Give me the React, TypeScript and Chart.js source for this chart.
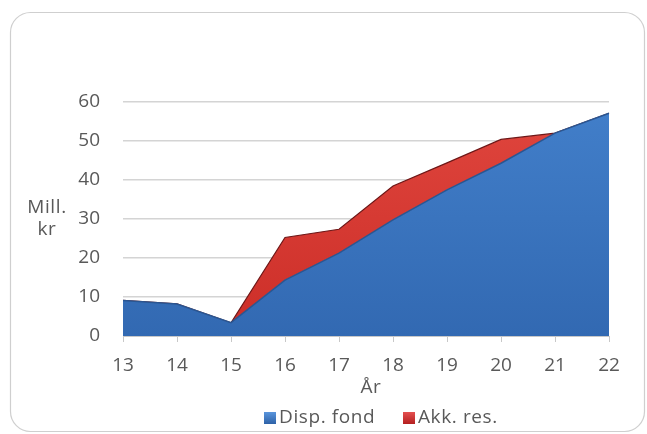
import React, { useEffect, useRef } from "react";
import { Chart, registerables } from "chart.js";

Chart.register(...registerables);

const categories = ["13", "14", "15", "16", "17", "18", "19", "20", "21", "22"];
const dispFond = [9.1, 8.2, 3.4, 14.3, 21.2, 29.7, 37.4, 44.2, 51.9, 57.0];
const akkRes = [0, 0, 0, 10.9, 6.1, 8.7, 6.9, 6.1, 0, 0];
const yTicks = [0, 10, 20, 30, 40, 50, 60];
const seriesNames = ["Disp. fond", "Akk. res."];
const xTitle = "År";
const yTitleLines = ["Mill.", "kr"];

const FONT = "'Open Sans', sans-serif";
const TEXT = "#595959";

export default function App() {
  const ref = useRef<HTMLCanvasElement | null>(null);

  useEffect(() => {
    const canvas = ref.current;
    if (!canvas) return;

    const decor = {
      id: "decor",
      beforeDraw(chart: any) {
        const ctx = chart.ctx;
        ctx.save();
        ctx.fillStyle = "#ffffff";
        ctx.fillRect(0, 0, chart.width, chart.height);
        ctx.beginPath();
        (ctx as any).roundRect(10.5, 12.5, 634, 419, 20);
        ctx.strokeStyle = "#cfcfcf";
        ctx.lineWidth = 1.2;
        ctx.stroke();
        ctx.restore();
      },
      afterDraw(chart: any) {
        const ctx = chart.ctx;
        ctx.save();
        ctx.fillStyle = TEXT;
        ctx.font = `19px ${FONT}`;
        (ctx as any).letterSpacing = "0.6px";
        ctx.textAlign = "center";
        ctx.textBaseline = "middle";
        ctx.fillText(yTitleLines[0], 47, 208);
        ctx.fillText(yTitleLines[1], 47, 230);
        ctx.fillText(xTitle, 371, 388);
        // legend
        const items = [
          { x: 264, color1: "#5a95dc", color2: "#2a5ea3", label: seriesNames[0] },
          { x: 403, color1: "#e45050", color2: "#b01c1c", label: seriesNames[1] },
        ];
        ctx.textAlign = "left";
        for (const it of items) {
          const g = ctx.createLinearGradient(0, 412, 0, 425);
          g.addColorStop(0, it.color1);
          g.addColorStop(1, it.color2);
          ctx.fillStyle = g;
          ctx.fillRect(it.x, 412, 12, 12);
          ctx.fillStyle = TEXT;
          ctx.fillText(it.label, it.x + 15, 418);
        }
        ctx.restore();
      },
    };

    const grad = (top: string, bottom: string) => (c: any) => {
      const area = c.chart.chartArea;
      if (!area) return top;
      const g = c.chart.ctx.createLinearGradient(0, area.top, 0, area.bottom);
      g.addColorStop(0, top);
      g.addColorStop(1, bottom);
      return g;
    };

    const chart = new Chart(canvas, {
      type: "line",
      data: {
        labels: categories,
        datasets: [
          {
            label: seriesNames[0],
            data: dispFond,
            fill: "origin",
            backgroundColor: grad("#427fca", "#3269b2"),
            borderColor: "#2a5692",
            borderWidth: 1.5,
            pointRadius: 0,
            tension: 0,
          },
          {
            label: seriesNames[1],
            data: akkRes,
            fill: "-1",
            backgroundColor: grad("#e0463e", "#cc2e28"),
            borderColor: "#6e1818",
            borderWidth: 1.2,
            pointRadius: 0,
            tension: 0,
          },
        ],
      },
      options: {
        responsive: false,
        animation: false,
        layout: { padding: { left: 0, right: 38, top: 101.5, bottom: 48 } },
        plugins: {
          legend: { display: false },
          tooltip: { enabled: false },
        },
        scales: {
          x: {
            offset: false,
            afterFit: (s: any) => {
              s.height = 50;
            },
            grid: {
              drawOnChartArea: false,
              drawTicks: true,
              tickLength: 6,
              color: "#c8c8c8",
            },
            border: { display: true, color: "#c8c8c8" },
            ticks: {
              color: TEXT,
              font: { family: FONT, size: 19 },
              padding: 12,
              maxRotation: 0,
              autoSkip: false,
            },
          },
          y: {
            stacked: true,
            min: 0,
            max: 60,
            afterFit: (s: any) => {
              s.width = 123;
            },
            afterBuildTicks: (s: any) => {
              s.ticks = yTicks.map((v) => ({ value: v }));
            },
            grid: {
              color: "#d4d4d4",
              lineWidth: 1.5,
              drawTicks: false,
            },
            border: { display: false },
            ticks: {
              color: TEXT,
              font: { family: FONT, size: 19 },
              padding: 23,
            },
          },
        },
      },
      plugins: [decor],
    });

    return () => chart.destroy();
  }, []);

  return (
    <div style={{ position: "absolute", left: 0, top: 0, width: 647, height: 434 }}>
      <canvas ref={ref} width={647} height={434} style={{ width: 647, height: 434, display: "block" }} />
    </div>
  );
}
